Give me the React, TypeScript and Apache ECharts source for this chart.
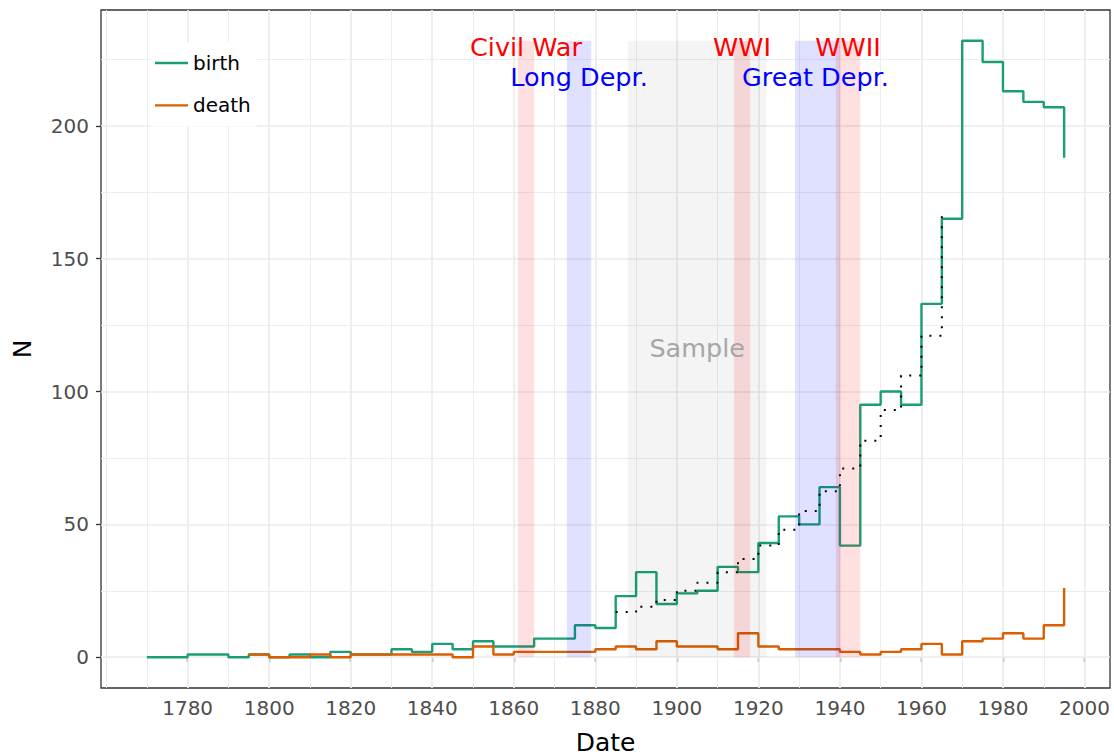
import React, { useEffect, useRef } from "react";
import * as echarts from "echarts";

// ---- data ----
const birthYears = [1770, 1775, 1780, 1785, 1790, 1795, 1800, 1805, 1810, 1815, 1820, 1825, 1830, 1835, 1840, 1845, 1850, 1855, 1860, 1865, 1870, 1875, 1880, 1885, 1890, 1895, 1900, 1905, 1910, 1915, 1920, 1925, 1930, 1935, 1940, 1945, 1950, 1955, 1960, 1965, 1970, 1975, 1980, 1985, 1990, 1995];
const birthValues = [0, 0, 1, 1, 0, 1, 0, 1, 0, 2, 1, 1, 3, 2, 5, 3, 6, 4, 4, 7, 7, 12, 11, 23, 32, 20, 24, 25, 34, 32, 43, 53, 50, 64, 42, 95, 100, 95, 133, 165, 232, 224, 213, 209, 207, 188];

const deathYears = [1795, 1800, 1805, 1810, 1815, 1820, 1825, 1830, 1835, 1840, 1845, 1850, 1855, 1860, 1865, 1870, 1875, 1880, 1885, 1890, 1895, 1900, 1905, 1910, 1915, 1920, 1925, 1930, 1935, 1940, 1945, 1950, 1955, 1960, 1965, 1970, 1975, 1980, 1985, 1990, 1995];
const deathValues = [1, 0, 0, 1, 0, 1, 1, 1, 1, 1, 0, 4, 1, 2, 2, 2, 2, 3, 4, 3, 6, 4, 4, 3, 9, 4, 3, 3, 3, 2, 1, 2, 3, 5, 1, 6, 7, 9, 7, 12, 26];

const sampleYears = [1885, 1890, 1895, 1900, 1905, 1910, 1915, 1920, 1925, 1930, 1935, 1940, 1945, 1950, 1955, 1960, 1965];
const sampleValues = [17, 19, 21.5, 25, 28, 32, 37, 42, 48, 55, 62.5, 71, 81.5, 93, 106, 121, 168];

const bandNames = ["Sample", "Civil War", "Long Depr.", "WWI", "Great Depr.", "WWII"];
const bandStart = [1888, 1861, 1873, 1914, 1929, 1939];
const bandEnd = [1922, 1865, 1879, 1918, 1940, 1945];
const bandKind = ["sample", "war", "depr", "war", "depr", "war"];
const bandTop = 232;

const labelTexts = ["Civil War", "Long Depr.", "WWI", "Great Depr.", "WWII", "Sample"];
const labelX = [1863, 1876, 1916, 1934, 1942, 1905];
const labelY = [229.7, 218.4, 229.7, 218.4, 229.7, 116.5];
const labelKind = ["war", "depr", "war", "depr", "war", "sample"];

const xTicks = [1780, 1800, 1820, 1840, 1860, 1880, 1900, 1920, 1940, 1960, 1980, 2000];
const xMinor = [1760, 1770, 1790, 1810, 1830, 1850, 1870, 1890, 1910, 1930, 1950, 1970, 1990];
const yTicks = [0, 50, 100, 150, 200];
const yMinor = [25, 75, 125, 175, 225];

const X_MIN = 1758.75;
const X_MAX = 2006.25;
const Y_MIN = -11.6;
const Y_MAX = 243.6;

const FONT = "DejaVu Sans";
const GREEN = "#1b9e77";
const ORANGE = "#d95f02";

const bandColor: Record<string, string> = {
  war: "rgba(255,0,0,0.12)",
  depr: "rgba(0,0,255,0.12)",
  sample: "rgba(0,0,0,0.045)",
};
const textColor: Record<string, string> = {
  war: "#ff0000",
  depr: "#0000ff",
  sample: "#a6a6a6",
};

export default function App() {
  const ref = useRef<HTMLDivElement>(null);

  useEffect(() => {
    if (!ref.current) return;
    const chart = echarts.init(ref.current, undefined, { renderer: "svg" });

    const gridLines: any[] = [];
    xMinor.forEach((v) => gridLines.push({ xAxis: v, lineStyle: { color: "#ebebeb", width: 0.9, type: "solid" } }));
    yMinor.forEach((v) => gridLines.push({ yAxis: v, lineStyle: { color: "#ebebeb", width: 0.9, type: "solid" } }));
    xTicks.forEach((v) => gridLines.push({ xAxis: v, lineStyle: { color: "#ebebeb", width: 1.7, type: "solid" } }));
    yTicks.forEach((v) => gridLines.push({ yAxis: v, lineStyle: { color: "#ebebeb", width: 1.7, type: "solid" } }));

    const areas = bandNames.map((n, i) => [
      { name: "", xAxis: bandStart[i], yAxis: 0, itemStyle: { color: bandColor[bandKind[i]] } },
      { xAxis: bandEnd[i], yAxis: bandTop },
    ]);

    const option: any = {
      animation: false,
      backgroundColor: "#ffffff",
      textStyle: { fontFamily: FONT },
      grid: {
        left: 101,
        right: 4,
        top: 10,
        bottom: 68,
        show: true,
        outerBoundsMode: "none",
        containLabel: false,
        borderColor: "#333333",
        borderWidth: 1.3,
        backgroundColor: "transparent",
      },
      legend: {
        data: ["birth", "death"],
        orient: "vertical",
        left: 151,
        top: 42,
        z: 20,
        backgroundColor: "#ffffff",
        padding: [9, 6, 9, 4],
        itemGap: 18.4,
        itemWidth: 33,
        itemHeight: 2.4,
        icon: "rect",
        textStyle: { fontFamily: FONT, fontSize: 20, color: "#000000", lineHeight: 24 },
      },
      xAxis: {
        type: "value",
        min: X_MIN,
        max: X_MAX,
        name: "Date",
        nameLocation: "middle",
        nameGap: 42,
        nameTextStyle: { fontFamily: FONT, fontSize: 25, color: "#000000" },
        splitLine: { show: false },
        axisLine: { show: false },
        axisTick: { show: true, customValues: xTicks, length: 5, lineStyle: { color: "#333333", width: 1.3 } },
        axisLabel: {
          customValues: xTicks,
          margin: 10,
          fontFamily: FONT,
          fontSize: 20,
          color: "#4d4d4d",
          formatter: (v: number) => String(Math.round(v)),
        },
      },
      yAxis: {
        type: "value",
        min: Y_MIN,
        max: Y_MAX,
        name: "N",
        nameLocation: "middle",
        nameGap: 66,
        nameTextStyle: { fontFamily: FONT, fontSize: 25, color: "#000000" },
        splitLine: { show: false },
        axisLine: { show: false },
        axisTick: { show: true, customValues: yTicks, length: 5, lineStyle: { color: "#333333", width: 1.3 } },
        axisLabel: {
          customValues: yTicks,
          margin: 12,
          fontFamily: FONT,
          fontSize: 20,
          color: "#4d4d4d",
          formatter: (v: number) => String(Math.round(v)),
        },
      },
      series: [
        {
          name: "gridlines",
          type: "line",
          z: 1,
          silent: true,
          data: [[1800, 0]],
          symbol: "none",
          lineStyle: { opacity: 0 },
          markLine: { z: 1, silent: true, symbol: ["none", "none"], label: { show: false }, data: gridLines },
        },
        {
          name: "birth",
          type: "line",
          z: 3,
          step: "end",
          symbol: "none",
          showSymbol: false,
          silent: true,
          itemStyle: { color: GREEN },
          lineStyle: { color: GREEN, width: 2.4 },
          data: birthYears.map((y, i) => [y, birthValues[i]]),
        },
        {
          name: "death",
          type: "line",
          z: 4,
          step: "end",
          symbol: "none",
          showSymbol: false,
          silent: true,
          itemStyle: { color: ORANGE },
          lineStyle: { color: ORANGE, width: 2.4 },
          data: deathYears.map((y, i) => [y, deathValues[i]]),
        },
        {
          name: "sample",
          type: "line",
          z: 5,
          step: "end",
          symbol: "none",
          showSymbol: false,
          silent: true,
          itemStyle: { color: "#000000" },
          lineStyle: { color: "#000000", width: 2, type: [2, 8], cap: "butt" },
          data: sampleYears.map((y, i) => [y, sampleValues[i]]),
        },
        {
          name: "bands",
          type: "line",
          z: 6,
          silent: true,
          data: [[1800, 0]],
          symbol: "none",
          lineStyle: { opacity: 0 },
          markArea: { z: 6, silent: true, label: { show: false }, data: areas },
        },
        {
          name: "labels",
          type: "scatter",
          z: 7,
          silent: true,
          symbolSize: 1,
          itemStyle: { color: "rgba(0,0,0,0)", opacity: 1 },
          label: {
            show: true,
            position: "inside",
            formatter: (p: any) => p.name,
            fontFamily: FONT,
            fontSize: 25.5,
            opacity: 1,
          },
          data: labelTexts.map((t, i) => ({
            name: t,
            value: [labelX[i], labelY[i]],
            label: { color: textColor[labelKind[i]] },
          })),
        },
      ],
    };

    chart.setOption(option);
    return () => chart.dispose();
  }, []);

  return (
    <div
      ref={ref}
      style={{ position: "fixed", left: 0, top: 0, width: 1114, height: 756, background: "#ffffff" }}
    />
  );
}
